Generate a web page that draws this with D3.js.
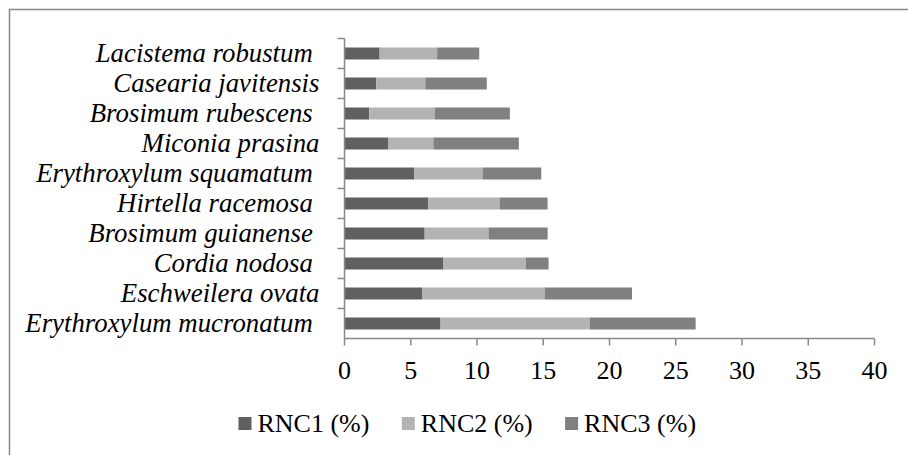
<!DOCTYPE html>
<html lang="en">
  <head>
    <meta charset="UTF-8" />
    <title>RNC by species</title>
    <style>
      body {
        margin: 0;
        padding: 0;
        background: #ffffff;
      }
      svg text {
        font-family: "Times New Roman", "Liberation Serif", serif;
        fill: #000;
      }
      .species {
        font-style: italic;
        white-space: pre;
      }
    </style>
  </head>
  <body>
    <svg id="chart"></svg>
    <script src="https://d3js.org/d3.v7.min.js"></script>
    <script>
      const width = 908;
      const height = 455;

      // species, top to bottom as drawn (trailing spaces are in the source labels)
      const species = [
        "Lacistema robustum ",
        "Casearia javitensis",
        "Brosimum rubescens ",
        "Miconia prasina",
        "Erythroxylum squamatum ",
        "Hirtella racemosa ",
        "Brosimum guianense ",
        "Cordia nodosa ",
        "Eschweilera ovata",
        "Erythroxylum mucronatum "
      ];
      const rnc1 = [2.65, 2.4, 1.87, 3.31, 5.27, 6.33, 6.05, 7.47, 5.85, 7.25];
      const rnc2 = [4.34, 3.7, 4.94, 3.4, 5.15, 5.37, 4.82, 6.2, 9.25, 11.25];
      const rnc3 = [3.18, 4.64, 5.67, 6.45, 4.43, 3.63, 4.46, 1.73, 6.6, 8.0];
      const seriesNames = ["RNC1 (%)", "RNC2 (%)", "RNC3 (%)"];
      const seriesColors = ["#606060", "#b3b3b3", "#808080"];
      const xTicks = [0, 5, 10, 15, 20, 25, 30, 35, 40];

      const margin = { left: 344.5, top: 38.5 };
      const plotW = 530;
      const plotH = 300;

      const svg = d3.select("#chart").attr("width", width).attr("height", height);

      // outer frame (runs off the right and bottom edges)
      svg
        .append("rect")
        .attr("x", 9.5)
        .attr("y", 9.5)
        .attr("width", 1200)
        .attr("height", 1200)
        .attr("fill", "none")
        .attr("stroke", "#888")
        .attr("stroke-width", 1.5);

      const x = d3.scaleLinear().domain([0, 40]).range([0, plotW]);
      const y = d3.scaleBand().domain(species).range([0, plotH]).paddingInner(0.6).paddingOuter(0.3);
      const yTick = d3.scaleBand().domain(species).range([0, plotH]);

      const g = svg.append("g").attr("transform", `translate(${margin.left},${margin.top})`);

      const rows = species.map((s, i) => ({ name: s, r1: rnc1[i], r2: rnc2[i], r3: rnc3[i] }));
      const stack = d3.stack().keys(["r1", "r2", "r3"])(rows);

      g.selectAll("g.series")
        .data(stack)
        .enter()
        .append("g")
        .attr("class", "series")
        .attr("fill", (d, i) => seriesColors[i])
        .selectAll("rect")
        .data((d) => d)
        .enter()
        .append("rect")
        .attr("x", (d) => x(d[0]))
        .attr("width", (d) => x(d[1]) - x(d[0]))
        .attr("y", (d) => y(d.data.name))
        .attr("height", y.bandwidth());

      // x axis
      const xAxis = g.append("g").attr("transform", `translate(0,${plotH})`);
      xAxis.append("line").attr("x1", 0).attr("x2", plotW).attr("stroke", "#888").attr("stroke-width", 1.5);
      xAxis
        .selectAll("line.tick")
        .data(xTicks)
        .enter()
        .append("line")
        .attr("class", "tick")
        .attr("x1", (d) => x(d))
        .attr("x2", (d) => x(d))
        .attr("y1", 0)
        .attr("y2", 7)
        .attr("stroke", "#888")
        .attr("stroke-width", 1.5);
      xAxis
        .selectAll("text")
        .data(xTicks)
        .enter()
        .append("text")
        .attr("x", (d) => x(d))
        .attr("y", 40)
        .attr("text-anchor", "middle")
        .style("font-size", "26px")
        .text((d) => d);

      // y axis
      const yAxis = g.append("g");
      yAxis.append("line").attr("y1", 0).attr("y2", plotH).attr("stroke", "#888").attr("stroke-width", 1.5);
      yAxis
        .selectAll("line.tick")
        .data(species)
        .enter()
        .append("line")
        .attr("class", "tick")
        .attr("x1", -7)
        .attr("x2", 0)
        .attr("y1", (d) => yTick(d))
        .attr("y2", (d) => yTick(d))
        .attr("stroke", "#888")
        .attr("stroke-width", 1.5);
      yAxis
        .selectAll("text")
        .data(species)
        .enter()
        .append("text")
        .attr("class", "species")
        .attr("x", -25)
        .attr("y", (d) => yTick(d) + yTick.bandwidth() / 2)
        .attr("dy", "0.33em")
        .attr("text-anchor", "end")
        .style("font-size", "26.8px")
        .text((d) => d);

      // legend
      const legend = svg
        .selectAll("g.legend")
        .data(seriesNames)
        .enter()
        .append("g")
        .attr("class", "legend")
        .attr("transform", (d, i) => `translate(${238.5 + i * 163.3},424)`);
      legend
        .append("rect")
        .attr("x", 0)
        .attr("y", -7)
        .attr("width", 13)
        .attr("height", 13)
        .attr("fill", (d, i) => seriesColors[i]);
      legend
        .append("text")
        .attr("x", 19)
        .attr("y", 7.5)
        .style("font-size", "26px")
        .text((d) => d);
    </script>
  </body>
</html>
